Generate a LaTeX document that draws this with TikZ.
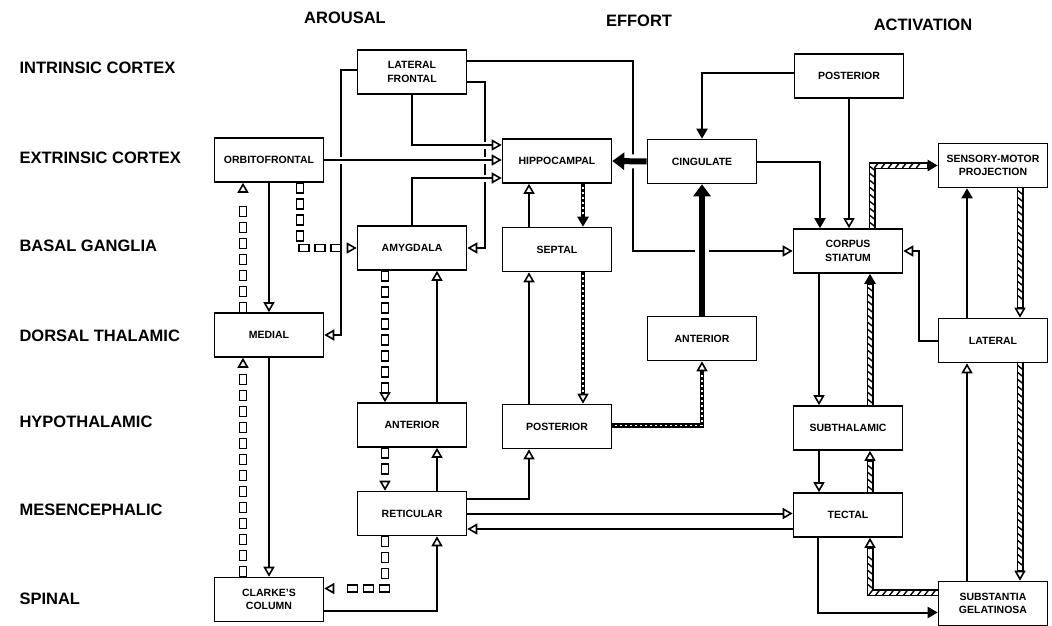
\documentclass[tikz,border=0pt]{standalone}
\usepackage{fontspec}
\setmainfont{Liberation Sans}
\usetikzlibrary{arrows.meta,decorations.markings,backgrounds}

\tikzset{
  hol/.tip={Triangle[open,length=10pt,width=11pt,line width=1.6pt]},
  ful/.tip={Triangle[length=10pt,width=11pt]},
  big/.tip={Triangle[length=12pt,width=17pt]},
  region/.style={draw,line width=1.6pt,fill=white,minimum width=109pt,minimum height=44pt,
    inner sep=1pt,align=center,font=\fontsize{10.5}{13.5}\selectfont\bfseries},
  rowlabel/.style={anchor=west,font=\fontsize{16.5}{18}\selectfont\bfseries},
  colhead/.style={font=\fontsize{16.5}{18}\selectfont\bfseries},
  wire/.style={line width=2pt},
  gap/.style={preaction={draw=white,line width=7pt,-}},
  heavy/.style={line width=6pt,preaction={draw=white,line width=14pt,-}},
  speckle/.style={line width=4.5pt,
    postaction={draw=white,line width=1.2pt,-,dash pattern=on 2pt off 3pt,shorten >=12pt,shorten <=3pt}},
  rope/.style={line width=7pt,
    postaction={draw=white,line width=4pt,-,shorten >=11pt},
    postaction={decorate,decoration={markings,
      mark=between positions 4pt and -14pt step 7pt with {\draw[-,line width=1.4pt] (-2pt,-2.5pt) -- (2pt,2.5pt);}}}},
  boxchain/.style={decorate,decoration={markings,
    mark=between positions 5pt and -14pt step 16pt with {\draw[-,line width=1.4pt,fill=white] (-5pt,-3.5pt) rectangle (5pt,3.5pt);},
    mark=at position 1 with {\arrow{hol}}}}
}

\begin{document}
\begin{tikzpicture}[x=1pt,y=-1pt]
  \useasboundingbox (0,0) rectangle (1052,626);

  % column headings and levels
  \node[colhead] (arousal) at (345,18) {AROUSAL};
  \node[colhead] (effort) at (639,21) {EFFORT};
  \node[colhead] (activ) at (923,25) {ACTIVATION};

  \node[rowlabel] (intr) at (16,68) {INTRINSIC CORTEX};
  \node[rowlabel] (extr) at (16,158) {EXTRINSIC CORTEX};
  \node[rowlabel] (basal) at (16,246) {BASAL GANGLIA};
  \node[rowlabel] (dorsal) at (16,336) {DORSAL THALAMIC};
  \node[rowlabel] (hypo) at (16,422) {HYPOTHALAMIC};
  \node[rowlabel] (mesen) at (16,510) {MESENCEPHALIC};
  \node[rowlabel] (spinal) at (16,599) {SPINAL};

  % regions
  \node[region] (lfront) at (412,72) {LATERAL\\FRONTAL};
  \node[region] (orbito) at (269,160) {ORBITOFRONTAL};
  \node[region] (hippo) at (557,161) {HIPPOCAMPAL};
  \node[region] (cing) at (702,161.5) {CINGULATE};
  \node[region] (postc) at (849,76) {POSTERIOR};
  \node[region] (sensory) at (993,165.5) {SENSORY-MOTOR\\PROJECTION};
  \node[region] (amyg) at (412,248) {AMYGDALA};
  \node[region] (septal) at (557,249.5) {SEPTAL};
  \node[region] (corpus) at (848,251) {CORPUS\\STIATUM};
  \node[region] (medial) at (269,335) {MEDIAL};
  \node[region] (antth) at (702,338.5) {ANTERIOR};
  \node[region] (lateral) at (993,340.5) {LATERAL};
  \node[region] (anthyp) at (412,425) {ANTERIOR};
  \node[region] (posthyp) at (557,426.5) {POSTERIOR};
  \node[region] (subth) at (848,428) {SUBTHALAMIC};
  \node[region] (retic) at (412,513.5) {RETICULAR};
  \node[region] (tectal) at (848,515) {TECTAL};
  \node[region] (clarke) at (269,599.5) {CLARKE'S\\COLUMN};
  \node[region] (subst) at (993,603.5) {SUBSTANTIA\\GELATINOSA};

  \begin{pgfonlayer}{background}
    % arousal
    \path[boxchain] ([xshift=-26pt]medial.north) -- ([xshift=-26pt]medial.north |- orbito.south);
    \draw[wire,-hol] (orbito.south) -- (orbito.south |- medial.north);
    \path[boxchain] ([xshift=31pt]orbito.south) |- (amyg.west);
    \draw[wire,-hol] (medial.south) -- (clarke.north);
    \path[boxchain] ([xshift=-26pt]clarke.north) -- ([xshift=-26pt]clarke.north |- medial.south);
    \draw[wire,-hol] ([yshift=2pt]lfront.west) -- ++(-16,0) |- (medial.east);
    \draw[wire,-hol] ([yshift=-10pt]lfront.east) -- ++(18,0) |- (amyg.east);
    \draw[wire,-hol,gap] (orbito.east) -- (orbito.east -| hippo.west);
    \draw[wire,-hol,gap] (lfront.south) |- ([yshift=16pt]hippo.west);
    \draw[wire,-hol,gap] (amyg.north) |- ([yshift=-17pt]hippo.west);
    \path[boxchain] ([xshift=-27pt]amyg.south) -- ([xshift=-27pt]anthyp.north);
    \draw[wire,-hol] ([xshift=25pt]anthyp.north) -- ([xshift=25pt]amyg.south);
    \path[boxchain] ([xshift=-27pt]anthyp.south) -- ([xshift=-27pt]retic.north);
    \draw[wire,-hol] ([xshift=25pt]retic.north) -- ([xshift=25pt]anthyp.south);
    \path[boxchain] ([xshift=-27pt]retic.south) |- ([yshift=11pt]clarke.east);
    \draw[wire,-hol] ([yshift=-11pt]clarke.east) -| ([xshift=25pt]retic.south);

    % effort
    \draw[wire,-hol] ([xshift=-28pt]septal.north) -- ([xshift=-28pt]hippo.south);
    \draw[speckle,-ful] ([xshift=26pt]hippo.south) -- ([xshift=26pt]septal.north);
    \draw[wire,-hol] ([xshift=-28pt]posthyp.north) -- ([xshift=-28pt]septal.south);
    \draw[speckle,-hol] ([xshift=26pt]septal.south) -- ([xshift=26pt]posthyp.north);
    \draw[wire,-hol] ([yshift=15pt]retic.east) -| ([xshift=-28pt]posthyp.south);
    \draw[speckle,-hol] ([yshift=1pt]posthyp.east) -| (antth.south);
    \draw[wire,-hol] ([yshift=11pt]lfront.east) -- ++(166,0) |- (corpus.west);
    \draw[heavy,-big] (cing.west) -- (hippo.east);
    \draw[heavy,-big] (antth.north) -- (cing.south);
    \draw[wire,-ful] ([yshift=3pt]postc.west) -| (cing.north);

    % activation
    \draw[wire,-ful] (cing.east) -| ([xshift=-28pt]corpus.north);
    \draw[wire,-hol] (postc.south) -- (postc.south |- corpus.north);
    \draw[rope,-ful] ([xshift=24pt]corpus.north) |- (sensory.west);
    \draw[wire,-ful] ([xshift=-26pt]lateral.north) -- ([xshift=-26pt]sensory.south);
    \draw[rope,-hol] ([xshift=27pt]sensory.south) -- ([xshift=27pt]lateral.north);
    \draw[wire,-hol] (lateral.west) -- ++(-19,0) |- (corpus.east);
    \draw[wire,-hol] ([xshift=-26pt]subst.north) -- ([xshift=-26pt]lateral.south);
    \draw[rope,-hol] ([xshift=27pt]lateral.south) -- ([xshift=27pt]subst.north);
    \draw[wire,-hol] ([xshift=-29pt]corpus.south) -- ([xshift=-29pt]subth.north);
    \draw[rope,-ful] ([xshift=22pt]subth.north) -- ([xshift=22pt]corpus.south);
    \draw[wire,-hol] ([xshift=-29pt]subth.south) -- ([xshift=-29pt]tectal.north);
    \draw[rope,-hol] ([xshift=22pt]tectal.north) -- ([xshift=22pt]subth.south);
    \draw[wire,-ful] ([xshift=-30pt]tectal.south) |- ([yshift=-9pt]subst.west);
    \draw[rope,-hol] ([yshift=11pt]subst.west) -| ([xshift=22pt]tectal.south);
    \draw[wire,-hol] (retic.east) -- (retic.east -| tectal.west);
    \draw[wire,-hol] ([yshift=-14pt]tectal.west) -- ([yshift=-14pt]tectal.west -| retic.east);
  \end{pgfonlayer}
\end{tikzpicture}
\end{document}
